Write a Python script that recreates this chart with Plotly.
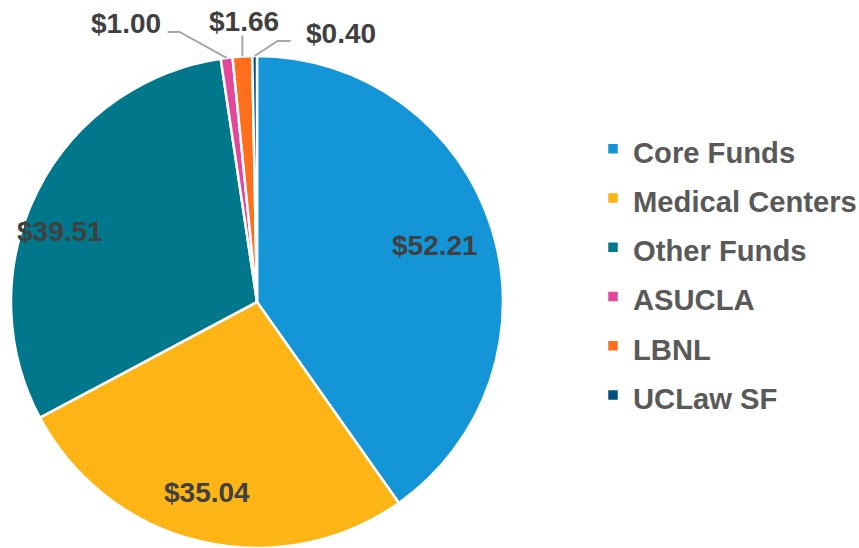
import math
import plotly.graph_objects as go

# ---- data ----
categories = ["Core Funds", "Medical Centers", "Other Funds", "ASUCLA", "LBNL", "UCLaw SF"]
values = [52.21, 35.04, 39.51, 1.00, 1.66, 0.40]
value_labels = ["$52.21", "$35.04", "$39.51", "$1.00", "$1.66", "$0.40"]

# ---- style ----
colors = ["#1395D8", "#FDB515", "#00778B", "#E4479A", "#FF6E1B", "#00507F"]
W, H = 859, 548
CX, CY, R = 257, 302, 246          # pie centre / radius in px (set through domain)
label_radius = [0.76, 0.80, 0.85, None, None, None]
label_angle_nudge = [0, 1.5, -7, 0, 0, 0]
# small-slice leader lines: (elbow dx, elbow dy, end dx, end dy, text dx, text dy) px from slice edge
leader = {
    3: (-47, -26, -59, -26, -101, -34),
    4: (0, -21, 0, -21, 2, -35),
    5: (23, -15, 36, -15, 86, -23),
}
TEXT_COLOR = "#404040"
LEGEND_COLOR = "#595959"
FONT = "Liberation Sans, Arial, sans-serif"


def px_to_paper(x, y):
    return x / W, 1 - y / H


fig = go.Figure()
fig.add_trace(go.Pie(
    labels=[f"<span style='font-size:29.2px'>{c}</span>" for c in categories],
    values=values,
    sort=False,
    direction="clockwise",
    rotation=0,
    marker=dict(colors=colors, line=dict(color="white", width=2.5)),
    textinfo="none",
    hoverinfo="label+value",
    domain=dict(x=[(CX - R) / W, (CX + R) / W], y=[1 - (CY + R) / H, 1 - (CY - R) / H]),
))

total = sum(values)
annotations = []
shapes = []
cum = 0.0
for i, v in enumerate(values):
    a0 = cum / total * 360
    cum += v
    a1 = cum / total * 360
    mid = (a0 + a1) / 2
    if label_radius[i] is not None:
        ang = math.radians(mid + label_angle_nudge[i])
        r = label_radius[i] * R
        x, y = CX + r * math.sin(ang), CY - r * math.cos(ang)
        px, py = px_to_paper(x, y)
        annotations.append(dict(x=px, y=py, xref="paper", yref="paper", text=value_labels[i],
                                showarrow=False, xanchor="center", yanchor="middle",
                                font=dict(family=FONT, size=28, color=TEXT_COLOR, weight="bold")))
    else:
        ang = math.radians(mid)
        ex, ey = CX + R * math.sin(ang), CY - R * math.cos(ang)
        edx, edy, ndx, ndy, tdx, tdy = leader[i]
        pts = [(ex, ey), (ex + edx, ey + edy), (ex + ndx, ey + ndy)]
        path = ""
        for k, (qx, qy) in enumerate(pts):
            ppx, ppy = px_to_paper(qx, qy)
            path += ("M" if k == 0 else "L") + f"{ppx},{ppy}"
        shapes.append(dict(type="path", path=path, xref="paper", yref="paper",
                           line=dict(color="#A6A6A6", width=2)))
        tx, ty = px_to_paper(ex + tdx, ey + tdy)
        annotations.append(dict(x=tx, y=ty, xref="paper", yref="paper", text=value_labels[i],
                                showarrow=False, xanchor="center", yanchor="middle",
                                font=dict(family=FONT, size=28, color=TEXT_COLOR, weight="bold")))

fig.update_layout(
    width=W, height=H,
    margin=dict(l=0, r=0, t=0, b=0, autoexpand=False),
    paper_bgcolor="white",
    plot_bgcolor="white",
    showlegend=True,
    legend=dict(
        x=593 / W, y=1 - 119 / H, xanchor="left", yanchor="top",
        font=dict(family=FONT, size=35.6, color=LEGEND_COLOR, weight="bold"),
        itemclick=False, itemdoubleclick=False,
        bgcolor="rgba(0,0,0,0)",
    ),
    annotations=annotations,
    shapes=shapes,
)

fig.write_html("out.html", config={"displayModeBar": False},
               post_script="document.body.style.margin='0';")
